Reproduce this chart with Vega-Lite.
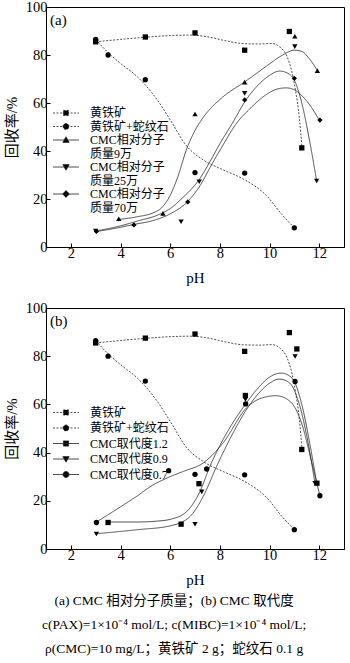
{
  "$schema": "https://vega.github.io/schema/vega-lite/v6.json",
  "padding": {"left": 3, "top": -2, "right": 3, "bottom": 0},
  "config": {
    "font": "Liberation Serif, Noto Sans CJK SC",
    "view": {"stroke": "black", "strokeWidth": 1},
    "axis": {"grid": false, "domainColor": "black", "tickColor": "black", "tickSize": -4, "labelColor": "black", "labelFontSize": 14.5, "titleFontSize": 15, "titleFontWeight": "normal", "titleColor": "black", "labelPadding": 3, "labelFont": "Liberation Serif", "titleFont": "Liberation Serif, Noto Sans CJK SC"},
    "legend": {"padding": 0, "labelFontSize": 12, "labelColor": "black", "labelFont": "Liberation Serif, Noto Sans CJK SC", "symbolSize": 16, "symbolStrokeWidth": 0.8, "labelOffset": 18, "rowPadding": 2, "symbolStrokeColor": "#222"}
  },
  "spacing": 13,
  "resolve": {"scale": {"strokeDash": "independent", "shape": "independent", "x": "independent", "y": "independent"}},
  "title": {
    "text": ["(a) CMC 相对分子质量；(b) CMC 取代度", "c(PAX)=1×10⁻⁴ mol/L; c(MIBC)=1×10⁻⁴ mol/L;", "ρ(CMC)=10 mg/L；黄铁矿 2 g；蛇纹石 0.1 g"],
    "orient": "bottom", "anchor": "middle", "fontSize": 13.5, "fontWeight": "normal", "lineHeight": 24, "offset": 6, "color": "black", "font": "Liberation Serif, Noto Sans CJK SC"
  },
  "datasets": {
    "curvesA": [
      {"s": "黄铁矿", "x": 3, "y": 85.5}, {"s": "黄铁矿", "x": 4, "y": 86.5}, {"s": "黄铁矿", "x": 5, "y": 87.4}, {"s": "黄铁矿", "x": 6, "y": 88.1}, {"s": "黄铁矿", "x": 6.8, "y": 88.3}, {"s": "黄铁矿", "x": 7.5, "y": 87.6}, {"s": "黄铁矿", "x": 8.2, "y": 86}, {"s": "黄铁矿", "x": 9, "y": 84.7}, {"s": "黄铁矿", "x": 9.6, "y": 84.6}, {"s": "黄铁矿", "x": 10.1, "y": 84.8}, {"s": "黄铁矿", "x": 10.4, "y": 83.5}, {"s": "黄铁矿", "x": 10.7, "y": 79.5}, {"s": "黄铁矿", "x": 10.9, "y": 73}, {"s": "黄铁矿", "x": 11.05, "y": 65}, {"s": "黄铁矿", "x": 11.2, "y": 54}, {"s": "黄铁矿", "x": 11.31, "y": 41.3},
      {"s": "黄铁矿+蛇纹石", "x": 3, "y": 86.5}, {"s": "黄铁矿+蛇纹石", "x": 3.5, "y": 81}, {"s": "黄铁矿+蛇纹石", "x": 4, "y": 76.5}, {"s": "黄铁矿+蛇纹石", "x": 4.67, "y": 71}, {"s": "黄铁矿+蛇纹石", "x": 5, "y": 67.5}, {"s": "黄铁矿+蛇纹石", "x": 5.5, "y": 61}, {"s": "黄铁矿+蛇纹石", "x": 6, "y": 53}, {"s": "黄铁矿+蛇纹石", "x": 6.67, "y": 42}, {"s": "黄铁矿+蛇纹石", "x": 7.33, "y": 36.3}, {"s": "黄铁矿+蛇纹石", "x": 8.1, "y": 32.3}, {"s": "黄铁矿+蛇纹石", "x": 9, "y": 28}, {"s": "黄铁矿+蛇纹石", "x": 9.87, "y": 21.5}, {"s": "黄铁矿+蛇纹石", "x": 10.5, "y": 13.5}, {"s": "黄铁矿+蛇纹石", "x": 11, "y": 8},
      {"s": "CMC相对分子质量9万", "x": 3.93, "y": 11.5}, {"s": "CMC相对分子质量9万", "x": 4.67, "y": 12.6}, {"s": "CMC相对分子质量9万", "x": 5.3, "y": 14.2}, {"s": "CMC相对分子质量9万", "x": 5.7, "y": 16.8}, {"s": "CMC相对分子质量9万", "x": 6.0, "y": 21.5}, {"s": "CMC相对分子质量9万", "x": 6.3, "y": 29}, {"s": "CMC相对分子质量9万", "x": 6.67, "y": 41}, {"s": "CMC相对分子质量9万", "x": 7.0, "y": 48.5}, {"s": "CMC相对分子质量9万", "x": 7.33, "y": 54}, {"s": "CMC相对分子质量9万", "x": 7.7, "y": 58.5}, {"s": "CMC相对分子质量9万", "x": 8.13, "y": 62.6}, {"s": "CMC相对分子质量9万", "x": 9.0, "y": 68.8}, {"s": "CMC相对分子质量9万", "x": 9.5, "y": 72.5}, {"s": "CMC相对分子质量9万", "x": 10, "y": 76.3}, {"s": "CMC相对分子质量9万", "x": 10.5, "y": 79.8}, {"s": "CMC相对分子质量9万", "x": 11.0, "y": 82}, {"s": "CMC相对分子质量9万", "x": 11.3, "y": 81.5}, {"s": "CMC相对分子质量9万", "x": 11.6, "y": 78.5}, {"s": "CMC相对分子质量9万", "x": 11.93, "y": 73.5},
      {"s": "CMC相对分子质量25万", "x": 3, "y": 6.7}, {"s": "CMC相对分子质量25万", "x": 4, "y": 8.8}, {"s": "CMC相对分子质量25万", "x": 4.67, "y": 10.8}, {"s": "CMC相对分子质量25万", "x": 5.5, "y": 13.3}, {"s": "CMC相对分子质量25万", "x": 6.0, "y": 16}, {"s": "CMC相对分子质量25万", "x": 6.5, "y": 20.5}, {"s": "CMC相对分子质量25万", "x": 7.16, "y": 28}, {"s": "CMC相对分子质量25万", "x": 7.6, "y": 35.5}, {"s": "CMC相对分子质量25万", "x": 8.0, "y": 43}, {"s": "CMC相对分子质量25万", "x": 8.5, "y": 51.5}, {"s": "CMC相对分子质量25万", "x": 9.07, "y": 61.5}, {"s": "CMC相对分子质量25万", "x": 9.5, "y": 67}, {"s": "CMC相对分子质量25万", "x": 10, "y": 71.5}, {"s": "CMC相对分子质量25万", "x": 10.4, "y": 73.3}, {"s": "CMC相对分子质量25万", "x": 10.8, "y": 72}, {"s": "CMC相对分子质量25万", "x": 11.0, "y": 69.5}, {"s": "CMC相对分子质量25万", "x": 11.3, "y": 60}, {"s": "CMC相对分子质量25万", "x": 11.6, "y": 45}, {"s": "CMC相对分子质量25万", "x": 11.9, "y": 27.5},
      {"s": "CMC相对分子质量70万", "x": 3, "y": 6.4}, {"s": "CMC相对分子质量70万", "x": 3.8, "y": 7.8}, {"s": "CMC相对分子质量70万", "x": 4.54, "y": 9.4}, {"s": "CMC相对分子质量70万", "x": 5.3, "y": 11}, {"s": "CMC相对分子质量70万", "x": 6.0, "y": 13.8}, {"s": "CMC相对分子质量70万", "x": 6.7, "y": 18.9}, {"s": "CMC相对分子质量70万", "x": 7.2, "y": 25.5}, {"s": "CMC相对分子质量70万", "x": 7.6, "y": 33}, {"s": "CMC相对分子质量70万", "x": 8.1, "y": 42}, {"s": "CMC相对分子质量70万", "x": 8.67, "y": 51.5}, {"s": "CMC相对分子质量70万", "x": 9.2, "y": 57.5}, {"s": "CMC相对分子质量70万", "x": 9.87, "y": 63.5}, {"s": "CMC相对分子质量70万", "x": 10.3, "y": 65.8}, {"s": "CMC相对分子质量70万", "x": 10.67, "y": 66.3}, {"s": "CMC相对分子质量70万", "x": 11.0, "y": 65.5}, {"s": "CMC相对分子质量70万", "x": 11.4, "y": 62}, {"s": "CMC相对分子质量70万", "x": 11.7, "y": 58}, {"s": "CMC相对分子质量70万", "x": 12.0, "y": 52.9}
    ],
    "pointsA": [
      {"m": "黄铁矿", "x": 3, "y": 85.5}, {"m": "黄铁矿", "x": 5, "y": 87.5}, {"m": "黄铁矿", "x": 7, "y": 89.2}, {"m": "黄铁矿", "x": 9, "y": 82}, {"m": "黄铁矿", "x": 10.8, "y": 89.8}, {"m": "黄铁矿", "x": 11.3, "y": 41.3},
      {"m": "黄铁矿+蛇纹石", "x": 3, "y": 86.5}, {"m": "黄铁矿+蛇纹石", "x": 3.5, "y": 80}, {"m": "黄铁矿+蛇纹石", "x": 5, "y": 69.7}, {"m": "黄铁矿+蛇纹石", "x": 7, "y": 31}, {"m": "黄铁矿+蛇纹石", "x": 9, "y": 30.8}, {"m": "黄铁矿+蛇纹石", "x": 11, "y": 8},
      {"m": "CMC相对分子质量9万", "x": 3.93, "y": 11.8}, {"m": "CMC相对分子质量9万", "x": 5.71, "y": 14}, {"m": "CMC相对分子质量9万", "x": 7, "y": 55.4}, {"m": "CMC相对分子质量9万", "x": 9, "y": 68.7}, {"m": "CMC相对分子质量9万", "x": 11.02, "y": 87.8}, {"m": "CMC相对分子质量9万", "x": 11.93, "y": 73.5},
      {"m": "CMC相对分子质量25万", "x": 3, "y": 6.7}, {"m": "CMC相对分子质量25万", "x": 6.44, "y": 10.5}, {"m": "CMC相对分子质量25万", "x": 7.17, "y": 27.2}, {"m": "CMC相对分子质量25万", "x": 9, "y": 64}, {"m": "CMC相对分子质量25万", "x": 11.02, "y": 83.5}, {"m": "CMC相对分子质量25万", "x": 11.9, "y": 27.5},
      {"m": "CMC相对分子质量70万", "x": 3.03, "y": 6.5}, {"m": "CMC相对分子质量70万", "x": 4.54, "y": 9.2}, {"m": "CMC相对分子质量70万", "x": 6.71, "y": 18.8}, {"m": "CMC相对分子质量70万", "x": 9, "y": 61.3}, {"m": "CMC相对分子质量70万", "x": 11, "y": 70.3}, {"m": "CMC相对分子质量70万", "x": 12.03, "y": 52.9}
    ],
    "curvesB": [
      {"s": "黄铁矿", "x": 3, "y": 85.5}, {"s": "黄铁矿", "x": 4, "y": 86.5}, {"s": "黄铁矿", "x": 5, "y": 87.4}, {"s": "黄铁矿", "x": 6, "y": 88.1}, {"s": "黄铁矿", "x": 6.8, "y": 88.3}, {"s": "黄铁矿", "x": 7.5, "y": 87.6}, {"s": "黄铁矿", "x": 8.2, "y": 86}, {"s": "黄铁矿", "x": 9, "y": 84.7}, {"s": "黄铁矿", "x": 9.6, "y": 84.6}, {"s": "黄铁矿", "x": 10.1, "y": 84.8}, {"s": "黄铁矿", "x": 10.4, "y": 83.5}, {"s": "黄铁矿", "x": 10.7, "y": 79.5}, {"s": "黄铁矿", "x": 10.9, "y": 73}, {"s": "黄铁矿", "x": 11.05, "y": 65}, {"s": "黄铁矿", "x": 11.2, "y": 54}, {"s": "黄铁矿", "x": 11.31, "y": 41.3},
      {"s": "黄铁矿+蛇纹石", "x": 3, "y": 86.5}, {"s": "黄铁矿+蛇纹石", "x": 3.5, "y": 81}, {"s": "黄铁矿+蛇纹石", "x": 4, "y": 76.5}, {"s": "黄铁矿+蛇纹石", "x": 4.67, "y": 71}, {"s": "黄铁矿+蛇纹石", "x": 5, "y": 67.5}, {"s": "黄铁矿+蛇纹石", "x": 5.5, "y": 61}, {"s": "黄铁矿+蛇纹石", "x": 6, "y": 53}, {"s": "黄铁矿+蛇纹石", "x": 6.67, "y": 42}, {"s": "黄铁矿+蛇纹石", "x": 7.33, "y": 36.3}, {"s": "黄铁矿+蛇纹石", "x": 8.1, "y": 32.3}, {"s": "黄铁矿+蛇纹石", "x": 9, "y": 28}, {"s": "黄铁矿+蛇纹石", "x": 9.87, "y": 21.5}, {"s": "黄铁矿+蛇纹石", "x": 10.5, "y": 13.5}, {"s": "黄铁矿+蛇纹石", "x": 11, "y": 8},
      {"s": "CMC取代度1.2", "x": 3.5, "y": 11.2}, {"s": "CMC取代度1.2", "x": 4.67, "y": 11.2}, {"s": "CMC取代度1.2", "x": 5.5, "y": 11.6}, {"s": "CMC取代度1.2", "x": 6.0, "y": 12.3}, {"s": "CMC取代度1.2", "x": 6.67, "y": 15.6}, {"s": "CMC取代度1.2", "x": 7.2, "y": 23.9}, {"s": "CMC取代度1.2", "x": 7.6, "y": 34.3}, {"s": "CMC取代度1.2", "x": 8.13, "y": 45.4}, {"s": "CMC取代度1.2", "x": 9.07, "y": 60.6}, {"s": "CMC取代度1.2", "x": 9.6, "y": 67.5}, {"s": "CMC取代度1.2", "x": 10.0, "y": 71.3}, {"s": "CMC取代度1.2", "x": 10.47, "y": 73}, {"s": "CMC取代度1.2", "x": 10.9, "y": 71}, {"s": "CMC取代度1.2", "x": 11.3, "y": 60}, {"s": "CMC取代度1.2", "x": 11.6, "y": 45}, {"s": "CMC取代度1.2", "x": 11.9, "y": 27.3},
      {"s": "CMC取代度0.9", "x": 3.0, "y": 6.3}, {"s": "CMC取代度0.9", "x": 4.67, "y": 8.0}, {"s": "CMC取代度0.9", "x": 6.0, "y": 9.6}, {"s": "CMC取代度0.9", "x": 6.8, "y": 13.5}, {"s": "CMC取代度0.9", "x": 7.33, "y": 21.8}, {"s": "CMC取代度0.9", "x": 7.87, "y": 34.3}, {"s": "CMC取代度0.9", "x": 8.53, "y": 48.1}, {"s": "CMC取代度0.9", "x": 9.07, "y": 57.8}, {"s": "CMC取代度0.9", "x": 9.6, "y": 65}, {"s": "CMC取代度0.9", "x": 10.0, "y": 68.8}, {"s": "CMC取代度0.9", "x": 10.4, "y": 70.5}, {"s": "CMC取代度0.9", "x": 10.8, "y": 69}, {"s": "CMC取代度0.9", "x": 11.2, "y": 60}, {"s": "CMC取代度0.9", "x": 11.5, "y": 47}, {"s": "CMC取代度0.9", "x": 11.83, "y": 27.3},
      {"s": "CMC取代度0.7", "x": 3.0, "y": 11.0}, {"s": "CMC取代度0.7", "x": 4.0, "y": 17.5}, {"s": "CMC取代度0.7", "x": 4.67, "y": 22}, {"s": "CMC取代度0.7", "x": 5.3, "y": 26.5}, {"s": "CMC取代度0.7", "x": 6.0, "y": 30}, {"s": "CMC取代度0.7", "x": 6.53, "y": 32.2}, {"s": "CMC取代度0.7", "x": 7.33, "y": 35.7}, {"s": "CMC取代度0.7", "x": 8.13, "y": 44}, {"s": "CMC取代度0.7", "x": 9.07, "y": 58.5}, {"s": "CMC取代度0.7", "x": 9.6, "y": 62.3}, {"s": "CMC取代度0.7", "x": 10.27, "y": 63.6}, {"s": "CMC取代度0.7", "x": 10.8, "y": 61.5}, {"s": "CMC取代度0.7", "x": 11.3, "y": 52}, {"s": "CMC取代度0.7", "x": 11.7, "y": 36}, {"s": "CMC取代度0.7", "x": 12.03, "y": 22.1}
    ],
    "pointsB": [
      {"m": "黄铁矿", "x": 3, "y": 85.5}, {"m": "黄铁矿", "x": 5, "y": 87.5}, {"m": "黄铁矿", "x": 7, "y": 89.2}, {"m": "黄铁矿", "x": 9, "y": 82}, {"m": "黄铁矿", "x": 10.8, "y": 89.8}, {"m": "黄铁矿", "x": 11.3, "y": 41.3},
      {"m": "黄铁矿+蛇纹石", "x": 3, "y": 86.5}, {"m": "黄铁矿+蛇纹石", "x": 3.5, "y": 80}, {"m": "黄铁矿+蛇纹石", "x": 5, "y": 69.7}, {"m": "黄铁矿+蛇纹石", "x": 7, "y": 31}, {"m": "黄铁矿+蛇纹石", "x": 9, "y": 30.8}, {"m": "黄铁矿+蛇纹石", "x": 11, "y": 8},
      {"m": "CMC取代度1.2", "x": 3.5, "y": 11}, {"m": "CMC取代度1.2", "x": 6.44, "y": 10.3}, {"m": "CMC取代度1.2", "x": 7.16, "y": 27.1}, {"m": "CMC取代度1.2", "x": 9.03, "y": 63.7}, {"m": "CMC取代度1.2", "x": 11.1, "y": 83}, {"m": "CMC取代度1.2", "x": 11.91, "y": 27.3},
      {"m": "CMC取代度0.9", "x": 3.03, "y": 6.2}, {"m": "CMC取代度0.9", "x": 7.0, "y": 10.3}, {"m": "CMC取代度0.9", "x": 7.27, "y": 23.7}, {"m": "CMC取代度0.9", "x": 9.03, "y": 62}, {"m": "CMC取代度0.9", "x": 11.03, "y": 79.9}, {"m": "CMC取代度0.9", "x": 11.83, "y": 27.3},
      {"m": "CMC取代度0.7", "x": 3.03, "y": 11}, {"m": "CMC取代度0.7", "x": 5.94, "y": 32.5}, {"m": "CMC取代度0.7", "x": 7.47, "y": 33.2}, {"m": "CMC取代度0.7", "x": 9.04, "y": 60.2}, {"m": "CMC取代度0.7", "x": 11.03, "y": 69.5}, {"m": "CMC取代度0.7", "x": 12.03, "y": 22.1}
    ]
  },
  "vconcat": [
    {
      "width": 298, "height": 240,
      "layer": [
        {
          "data": {"name": "curvesA"},
          "mark": {"type": "line", "interpolate": "monotone", "strokeWidth": 0.8, "color": "#222"},
          "encoding": {
            "x": {"field": "x", "type": "quantitative", "scale": {"domain": [1, 13], "nice": false}, "axis": {"title": "pH", "values": [2, 4, 6, 8, 10, 12], "titlePadding": 11}},
            "y": {"field": "y", "type": "quantitative", "scale": {"domain": [0, 100], "nice": false}, "axis": {"title": "回收率/%", "values": [0, 20, 40, 60, 80, 100], "titlePadding": 6}},
            "strokeDash": {
              "field": "s", "type": "nominal",
              "scale": {"domain": ["黄铁矿", "黄铁矿+蛇纹石", "CMC相对分子质量9万", "质量9万", "CMC相对分子质量25万", "质量25万", "CMC相对分子质量70万", "质量70万"], "range": [[2, 1.5], [2, 1.5], [1, 0], [1, 0], [1, 0], [1, 0], [1, 0], [1, 0]]},
              "legend": {
                "title": null, "orient": "none", "legendX": 14, "legendY": 100, "rowPadding": 1.5, "symbolSize": 16,
                "labelExpr": "indexof(datum.label, 'CMC相对分子') === 0 ? 'CMC相对分子' : datum.label",
                "encode": {"symbols": {"update": {
                  "size": {"value": 16},
                  "fill": {"value": "black"},
                  "stroke": {"value": "#222"},
                  "opacity": {"signal": "indexof(datum.value, '质量') === 0 ? 0 : 1"},
                  "shape": {"signal": "datum.value === '黄铁矿' ? 'M-6.5,0H6.5M-1.3,-1.3H1.3V1.3H-1.3Z' : datum.value === '黄铁矿+蛇纹石' ? 'M-6.5,0H6.5M-1.5,0A1.5,1.5,0,1,1,1.5,0A1.5,1.5,0,1,1,-1.5,0Z' : datum.value === 'CMC相对分子质量9万' ? 'M-6.5,0H6.5M0,-1.6L1.6,1.2L-1.6,1.2Z' : datum.value === 'CMC相对分子质量25万' ? 'M-6.5,0H6.5M0,1.6L1.6,-1.2L-1.6,-1.2Z' : datum.value === 'CMC相对分子质量70万' ? 'M-6.5,0H6.5M0,-1.7L1.7,0L0,1.7L-1.7,0Z' : 'M0,0'"}
                }}}
              }
            }
          }
        },
        {
          "data": {"name": "pointsA"},
          "mark": {"type": "point", "filled": true, "opacity": 1, "color": "black", "size": 28},
          "encoding": {
            "x": {"field": "x", "type": "quantitative"},
            "y": {"field": "y", "type": "quantitative"},
            "shape": {"field": "m", "type": "nominal", "legend": null,
              "scale": {"domain": ["黄铁矿", "黄铁矿+蛇纹石", "CMC相对分子质量9万", "CMC相对分子质量25万", "CMC相对分子质量70万"], "range": ["square", "circle", "triangle-up", "triangle-down", "diamond"]}}
          }
        },
        {
          "data": {"values": [{"x": 1.16, "y": 94.5, "t": "(a)"}]},
          "mark": {"type": "text", "align": "left", "baseline": "middle", "fontSize": 15, "color": "black", "font": "Liberation Serif"},
          "encoding": {"x": {"field": "x", "type": "quantitative"}, "y": {"field": "y", "type": "quantitative"}, "text": {"field": "t"}}
        }
      ]
    },
    {
      "width": 298, "height": 241,
      "layer": [
        {
          "data": {"name": "curvesB"},
          "mark": {"type": "line", "interpolate": "monotone", "strokeWidth": 0.8, "color": "#222"},
          "encoding": {
            "x": {"field": "x", "type": "quantitative", "scale": {"domain": [1, 13], "nice": false}, "axis": {"title": "pH", "values": [2, 4, 6, 8, 10, 12], "titlePadding": 11}},
            "y": {"field": "y", "type": "quantitative", "scale": {"domain": [0, 100], "nice": false}, "axis": {"title": "回收率/%", "values": [0, 20, 40, 60, 80, 100], "titlePadding": 6}},
            "strokeDash": {
              "field": "s", "type": "nominal",
              "scale": {"domain": ["黄铁矿", "黄铁矿+蛇纹石", "CMC取代度1.2", "CMC取代度0.9", "CMC取代度0.7"], "range": [[2, 1.5], [2, 1.5], [1, 0], [1, 0], [1, 0]]},
              "legend": {
                "title": null, "orient": "none", "legendX": 14, "legendY": 98.5, "rowPadding": 3.5, "symbolSize": 16,
                "encode": {"symbols": {"update": {
                  "size": {"value": 16},
                  "fill": {"value": "black"},
                  "stroke": {"value": "#222"},
                  "shape": {"signal": "datum.value === '黄铁矿' ? 'M-6.5,0H6.5M-1.3,-1.3H1.3V1.3H-1.3Z' : datum.value === '黄铁矿+蛇纹石' ? 'M-6.5,0H6.5M-1.5,0A1.5,1.5,0,1,1,1.5,0A1.5,1.5,0,1,1,-1.5,0Z' : datum.value === 'CMC取代度1.2' ? 'M-6.5,0H6.5M-1.3,-1.3H1.3V1.3H-1.3Z' : datum.value === 'CMC取代度0.9' ? 'M-6.5,0H6.5M0,1.6L1.6,-1.2L-1.6,-1.2Z' : 'M-6.5,0H6.5M-1.5,0A1.5,1.5,0,1,1,1.5,0A1.5,1.5,0,1,1,-1.5,0Z'"}
                }}}
              }
            }
          }
        },
        {
          "data": {"name": "pointsB"},
          "mark": {"type": "point", "filled": true, "opacity": 1, "color": "black", "size": 28},
          "encoding": {
            "x": {"field": "x", "type": "quantitative"},
            "y": {"field": "y", "type": "quantitative"},
            "shape": {"field": "m", "type": "nominal", "legend": null,
              "scale": {"domain": ["CMC取代度0.7", "CMC取代度0.9", "CMC取代度1.2", "黄铁矿+蛇纹石", "黄铁矿"], "range": ["circle", "triangle-down", "square", "circle", "square"]}}
          }
        },
        {
          "data": {"values": [{"x": 1.16, "y": 94.5, "t": "(b)"}]},
          "mark": {"type": "text", "align": "left", "baseline": "middle", "fontSize": 15, "color": "black", "font": "Liberation Serif"},
          "encoding": {"x": {"field": "x", "type": "quantitative"}, "y": {"field": "y", "type": "quantitative"}, "text": {"field": "t"}}
        }
      ]
    }
  ]
}
